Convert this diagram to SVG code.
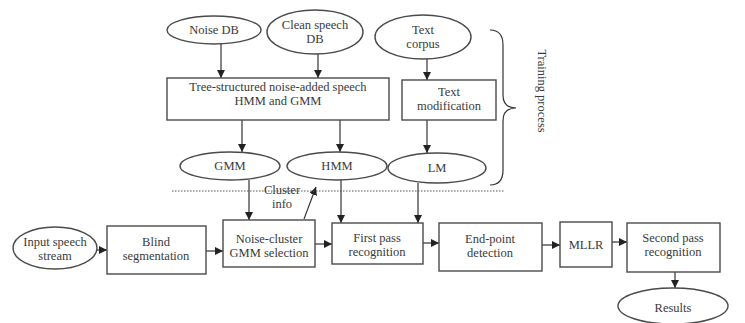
<svg xmlns="http://www.w3.org/2000/svg" width="745" height="323" viewBox="0 0 745 323">
<style>
text{font-family:"Liberation Serif","Times New Roman",serif;font-size:12.5px;fill:#3a3a3a;text-anchor:middle;dominant-baseline:central}
.n{fill:#fff;stroke:#4a4a4a;stroke-width:1.4}
.c{fill:none;stroke:#333;stroke-width:1.2}
</style>
<defs>
<marker id="a" viewBox="0 0 10 10" refX="10" refY="5" markerWidth="8" markerHeight="8" markerUnits="userSpaceOnUse" orient="auto"><path d="M0,0L10,5L0,10z" fill="#222"/></marker>
</defs>
<rect width="745" height="323" fill="#fff"/>
<g id="connectors">
<line class="c" x1="221" y1="44" x2="221" y2="78" marker-end="url(#a)"/>
<line class="c" x1="318" y1="54" x2="318" y2="78" marker-end="url(#a)"/>
<line class="c" x1="427" y1="59" x2="427" y2="80" marker-end="url(#a)"/>
<line class="c" x1="242" y1="120" x2="242" y2="152" marker-end="url(#a)"/>
<line class="c" x1="340" y1="120" x2="340" y2="152" marker-end="url(#a)"/>
<line class="c" x1="427" y1="120" x2="427" y2="153" marker-end="url(#a)"/>
<line class="c" x1="249" y1="180" x2="249" y2="220" marker-end="url(#a)"/>
<line class="c" x1="341" y1="180" x2="341" y2="223" marker-end="url(#a)"/>
<line class="c" x1="418" y1="183" x2="418" y2="223" marker-end="url(#a)"/>
<line class="c" x1="304" y1="219" x2="316" y2="187" marker-end="url(#a)"/>
<line class="c" x1="97" y1="250" x2="107" y2="250" marker-end="url(#a)"/>
<line class="c" x1="206" y1="251" x2="223" y2="251" marker-end="url(#a)"/>
<line class="c" x1="315" y1="244" x2="332" y2="244" marker-end="url(#a)"/>
<line class="c" x1="423" y1="243" x2="439" y2="243" marker-end="url(#a)"/>
<line class="c" x1="542" y1="245" x2="560" y2="245" marker-end="url(#a)"/>
<line class="c" x1="612" y1="242" x2="627" y2="242" marker-end="url(#a)"/>
<line class="c" x1="675" y1="272" x2="675" y2="288" marker-end="url(#a)"/>
<line x1="172" y1="191" x2="505" y2="191" stroke="#555" stroke-width="1" stroke-dasharray="1.5,1.5"/>
<path class="c" d="M490,30 Q503,30 503,45 L503,95 Q503,108 516,108 Q503,108 503,121 L503,170 Q503,185 490,185" stroke="#444"/>
</g>
<g id="noise-db"><ellipse class="n" cx="214" cy="30" rx="47" ry="14"/><text x="214" y="30">Noise DB</text></g>
<g id="clean-speech-db"><ellipse class="n" cx="315" cy="32" rx="48" ry="22"/><text x="315" y="25">Clean speech</text><text x="315" y="39">DB</text></g>
<g id="text-corpus"><ellipse class="n" cx="423" cy="37" rx="48" ry="22"/><text x="423" y="30">Text</text><text x="423" y="44">corpus</text></g>
<g id="tree-hmm-gmm"><rect class="n" x="167" y="78" width="222" height="42"/><text x="278" y="87">Tree-structured noise-added speech</text><text x="278" y="101">HMM and GMM</text></g>
<g id="text-modification"><rect class="n" x="402" y="80" width="94" height="40"/><text x="449" y="92">Text</text><text x="449" y="106">modification</text></g>
<g id="gmm"><ellipse class="n" cx="230" cy="166" rx="50" ry="14"/><text x="230" y="166">GMM</text></g>
<g id="hmm"><ellipse class="n" cx="337" cy="166" rx="50" ry="14"/><text x="337" y="166">HMM</text></g>
<g id="lm"><ellipse class="n" cx="437" cy="168" rx="49" ry="15"/><text x="437" y="168">LM</text></g>
<g id="training-process"><text x="542" y="91" transform="rotate(90 542 91)">Training process</text></g>
<g id="cluster-info"><text x="282" y="190">Cluster</text><text x="282" y="204">info</text></g>
<g id="input-speech"><ellipse class="n" cx="55" cy="248" rx="42" ry="21"/><text x="55" y="242">Input speech</text><text x="55" y="256">stream</text></g>
<g id="blind-segmentation"><rect class="n" x="107" y="226" width="99" height="48"/><text x="156" y="242">Blind</text><text x="156" y="256">segmentation</text></g>
<g id="noise-cluster"><rect class="n" x="223" y="220" width="92" height="47"/><text x="269" y="239">Noise-cluster</text><text x="269" y="253">GMM selection</text></g>
<g id="first-pass"><rect class="n" x="332" y="223" width="91" height="41"/><text x="377" y="238">First pass</text><text x="377" y="252">recognition</text></g>
<g id="end-point"><rect class="n" x="439" y="223" width="103" height="48"/><text x="490" y="239">End-point</text><text x="490" y="253">detection</text></g>
<g id="mllr"><rect class="n" x="560" y="222" width="52" height="45"/><text x="586" y="245">MLLR</text></g>
<g id="second-pass"><rect class="n" x="627" y="223" width="93" height="49"/><text x="673" y="238">Second pass</text><text x="673" y="252">recognition</text></g>
<g id="results"><ellipse class="n" cx="673" cy="306" rx="55" ry="18"/><text x="673" y="308">Results</text></g>
</svg>
